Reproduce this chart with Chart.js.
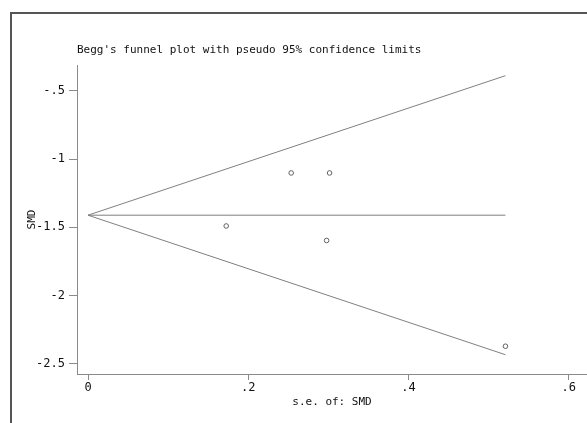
<!DOCTYPE html>
<html>
<head>
<meta charset="utf-8">
<script src="https://cdn.jsdelivr.net/npm/chart.js@4"></script>
<style>
  html, body { margin: 0; padding: 0; background: #ffffff; }
  #c { display: block; }
</style>
</head>
<body>
<canvas id="c" width="587" height="423"></canvas>
<script>
// ---- data ----
const studySE  = [0.2536, 0.3015, 0.1725, 0.2978, 0.521];
const studySMD = [-1.102, -1.102, -1.490, -1.596, -2.370];

const limitX      = [0, 0.521];
const upperLimitY = [-1.411, -0.390];
const centerLineY = [-1.411, -1.411];
const lowerLimitY = [-1.411, -2.432];

const xTickValues = [0, 0.2, 0.4, 0.6];
const xTickLabels = ["0", ".2", ".4", ".6"];
const yTickValues = [-0.5, -1, -1.5, -2, -2.5];
const yTickLabels = ["-.5", "-1", "-1.5", "-2", "-2.5"];

const titleText  = "Begg's funnel plot with pseudo 95% confidence limits";
const xAxisTitle = "s.e. of: SMD";
const yAxisTitle = "SMD";

// ---- build datasets ----
const toPts = (xs, ys) => xs.map((x, i) => ({ x: x, y: ys[i] }));
const lineStyle = {
  type: 'line', showLine: true, pointRadius: 0, pointHoverRadius: 0,
  borderColor: '#7f7f7f', borderWidth: 1, fill: false, tension: 0
};

const framePlugin = {
  id: 'frame',
  afterDraw(chart) {
    const ctx = chart.ctx;
    ctx.save();
    ctx.strokeStyle = '#555555';
    ctx.lineWidth = 2;
    ctx.beginPath();
    ctx.moveTo(11, 440);
    ctx.lineTo(11, 13);
    ctx.lineTo(600, 13);
    ctx.stroke();
    ctx.restore();
  }
};

const tickFont = { family: "'DejaVu Sans Mono', monospace", size: 12 };
const labFont  = { family: "'DejaVu Sans Mono', monospace", size: 11 };

new Chart(document.getElementById('c'), {
  type: 'scatter',
  data: {
    datasets: [
      Object.assign({ data: toPts(limitX, upperLimitY) }, lineStyle),
      Object.assign({ data: toPts(limitX, centerLineY) }, lineStyle),
      Object.assign({ data: toPts(limitX, lowerLimitY) }, lineStyle),
      {
        type: 'scatter',
        data: toPts(studySE, studySMD),
        pointStyle: 'circle',
        pointRadius: 2.3,
        pointHoverRadius: 2.3,
        pointBorderWidth: 1,
        pointBorderColor: '#606060',
        pointBackgroundColor: 'rgba(255,255,255,0)',
        showLine: false
      }
    ]
  },
  options: {
    responsive: false,
    animation: false,
    devicePixelRatio: 1,
    layout: { autoPadding: false, padding: { left: 20, right: 0, top: 0, bottom: 0 } },
    plugins: {
      legend: { display: false },
      tooltip: { enabled: false },
      title: {
        display: true,
        text: titleText,
        align: 'start',
        fullSize: false,
        color: '#111111',
        font: Object.assign({ weight: 'normal', lineHeight: 1.2 }, labFont),
        padding: { top: 43.4, bottom: 8.4 }
      }
    },
    scales: {
      x: {
        type: 'linear',
        min: -0.01373,
        max: 0.6228,
        afterFit(s) { s.height = 49; },
        afterBuildTicks(s) { s.ticks = xTickValues.map(v => ({ value: v })); },
        ticks: {
          color: '#111111',
          font: tickFont,
          padding: 1,
          maxRotation: 0,
          autoSkip: false,
          callback: (v, i) => xTickLabels[i]
        },
        grid: {
          drawOnChartArea: false,
          drawTicks: true,
          tickLength: 6,
          color: '#8a8a8a'
        },
        border: { display: true, color: '#8a8a8a', width: 1 },
        title: {
          display: true,
          text: xAxisTitle,
          color: '#111111',
          font: labFont,
          padding: { top: 0, bottom: 14.7 }
        }
      },
      y: {
        type: 'linear',
        min: -2.5732,
        max: -0.3119,
        afterFit(s) { s.width = 57; },
        afterBuildTicks(s) { s.ticks = yTickValues.map(v => ({ value: v })); },
        ticks: {
          color: '#111111',
          font: tickFont,
          padding: 4,
          autoSkip: false,
          callback: (v, i) => yTickLabels[i]
        },
        grid: {
          drawOnChartArea: false,
          drawTicks: true,
          tickLength: 8,
          color: '#8a8a8a'
        },
        border: { display: true, color: '#8a8a8a', width: 1 },
        title: {
          display: true,
          text: yAxisTitle,
          color: '#111111',
          font: labFont,
          padding: { top: 5.7, bottom: 0 }
        }
      }
    }
  },
  plugins: [framePlugin]
});
</script>
</body>
</html>
